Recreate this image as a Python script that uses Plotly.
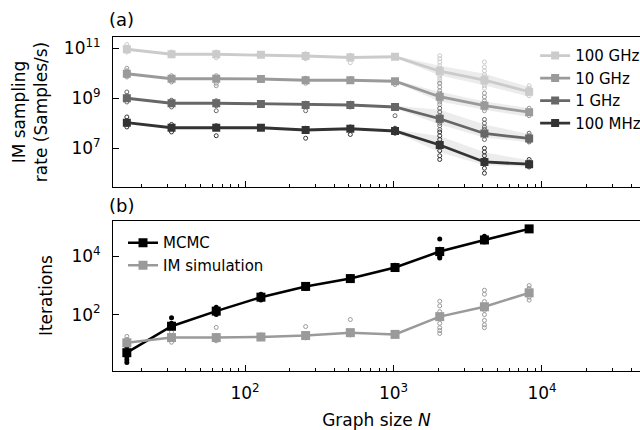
import numpy as np
import plotly.graph_objects as go

# ---------------- data ----------------
N = [16, 32, 64, 128, 256, 512, 1024, 2048, 4096, 8192]

# panel (a): log10 of IM sampling rate (Samples/s), mean per N
series_names = ["100 GHz", "10 GHz", "1 GHz", "100 MHz"]
series_colors = ["#cbcbcb", "#9a9a9a", "#676767", "#333333"]

log_rate_100GHz = [10.96, 10.76, 10.76, 10.74, 10.69, 10.63, 10.66, 10.08, 9.72, 9.26]
log_rate_10GHz = [9.98, 9.78, 9.78, 9.77, 9.72, 9.72, 9.68, 9.06, 8.70, 8.44]
log_rate_1GHz = [9.00, 8.80, 8.80, 8.77, 8.73, 8.73, 8.65, 8.18, 7.59, 7.39]
log_rate_100MHz = [8.02, 7.82, 7.82, 7.82, 7.73, 7.78, 7.69, 7.13, 6.45, 6.36]

# shaded band (lower / upper), log10
band_lo_100GHz = [10.94, 10.74, 10.74, 10.72, 10.67, 10.61, 10.62, 9.91, 9.52, 9.06]
band_hi_100GHz = [10.98, 10.78, 10.78, 10.76, 10.71, 10.65, 10.70, 10.30, 9.98, 9.45]
band_lo_10GHz = [9.96, 9.76, 9.76, 9.75, 9.70, 9.70, 9.64, 8.87, 8.54, 8.25]
band_hi_10GHz = [10.00, 9.80, 9.80, 9.79, 9.74, 9.74, 9.72, 9.26, 8.87, 8.61]
band_lo_1GHz = [8.98, 8.78, 8.78, 8.75, 8.71, 8.71, 8.60, 7.95, 7.43, 7.24]
band_hi_1GHz = [9.02, 8.82, 8.82, 8.79, 8.75, 8.75, 8.70, 8.54, 7.95, 7.56]
band_lo_100MHz = [8.00, 7.80, 7.80, 7.80, 7.71, 7.76, 7.64, 6.84, 6.32, 6.26]
band_hi_100MHz = [8.04, 7.84, 7.84, 7.84, 7.75, 7.80, 7.74, 7.49, 6.84, 6.51]

# individual runs (log10), one list per N
runs_100GHz = [[11.15, 11.05, 10.9, 10.85, 11.0], [10.85, 10.7], [10.85, 10.62, 10.7], [10.78],
               [10.78, 10.58, 10.62], [10.72, 10.42], [10.7],
               [10.70, 10.58, 10.45, 10.3, 10.2, 10.0, 9.9, 9.8, 9.7, 9.6],
               [10.45, 10.25, 10.1, 9.95, 9.85, 9.6, 9.5, 9.4], [9.5, 9.4, 9.3, 9.2, 9.1]]
runs_10GHz = [[10.2, 10.1, 9.9, 9.85, 10.05], [9.9, 9.65], [9.9, 9.6, 9.5], [9.8],
              [9.8, 9.6], [9.78, 9.7], [9.7, 9.55],
              [9.6, 9.45, 9.3, 9.2, 9.05, 8.95, 8.85, 8.75],
              [9.2, 9.05, 8.9, 8.8, 8.7, 8.6, 8.5], [8.6, 8.5, 8.4, 8.3]]
runs_1GHz = [[9.25, 9.1, 8.95, 8.85, 9.05], [8.92, 8.65], [8.9, 8.7, 8.5], [8.82],
             [8.8, 8.5], [8.8, 8.65], [8.7, 8.3],
             [8.6, 8.45, 8.3, 8.2, 8.1, 8.0, 7.9, 7.75],
             [8.15, 8.0, 7.85, 7.75, 7.6, 7.5, 7.35], [7.6, 7.5, 7.3, 7.25]]
runs_100MHz = [[8.25, 8.1, 7.95, 7.85, 8.05], [7.95, 7.65], [7.9, 7.5], [7.85],
               [7.8, 7.4], [7.85, 7.55], [7.8, 7.6],
               [7.65, 7.5, 7.35, 7.2, 7.05, 6.9, 6.7, 6.55],
               [7.0, 6.85, 6.7, 6.55, 6.4, 6.2, 6.0], [6.55, 6.45, 6.3, 6.25]]

# panel (b): log10 of iterations
log_iter_mcmc = [0.69, 1.60, 2.12, 2.60, 2.97, 3.24, 3.62, 4.17, 4.57, 4.95]
log_iter_im = [1.03, 1.21, 1.21, 1.23, 1.28, 1.38, 1.32, 1.93, 2.27, 2.75]
runs_mcmc = [[0.9, 0.55, 0.45, 0.35], [1.89, 1.7], [2.25, 2.0], [2.7, 2.5], [3.0, 2.9],
             [3.3, 3.2], [3.7, 3.55], [4.6, 4.25, 4.1, 4.0, 3.95], [4.7, 4.6, 4.5], [4.95]]
runs_im = [[1.25, 1.15, 0.95, 0.9], [1.4, 1.05], [1.56, 1.1], [1.3], [1.59, 1.2],
           [1.83, 1.3], [1.35], [2.46, 2.3, 2.1, 1.9, 1.7, 1.55, 1.45, 1.35],
           [2.84, 2.7, 2.45, 2.3, 2.15, 2.0, 1.8, 1.65, 1.55], [3.0, 2.9, 2.6, 2.5]]

x_major = [100, 1000, 10000]
x_major_text = ["10<sup>2</sup>", "10<sup>3</sup>", "10<sup>4</sup>"]
y_top_ticks = [1e7, 1e9, 1e11]
y_top_text = ["10<sup>7</sup>", "10<sup>9</sup>", "10<sup>11</sup>"]
y_bot_ticks = [1e2, 1e4]
y_bot_text = ["10<sup>2</sup>", "10<sup>4</sup>"]

# ---------------- figure ----------------
FONT = "DejaVu Sans"
TICK_FS = 17
TITLE_FS = 17
LEG_FS = 15
fig = go.Figure()


def flatten_runs(runs):
    xs, ys = [], []
    for n, vals in zip(N, runs):
        for v in vals:
            xs.append(n)
            ys.append(10 ** v)
    return xs, ys


top_means = [log_rate_100GHz, log_rate_10GHz, log_rate_1GHz, log_rate_100MHz]
top_lo = [band_lo_100GHz, band_lo_10GHz, band_lo_1GHz, band_lo_100MHz]
top_hi = [band_hi_100GHz, band_hi_10GHz, band_hi_1GHz, band_hi_100MHz]
top_runs = [runs_100GHz, runs_10GHz, runs_1GHz, runs_100MHz]

# bands
for lo, hi in zip(top_lo, top_hi):
    fig.add_trace(go.Scatter(x=N + N[::-1], y=[10 ** v for v in hi] + [10 ** v for v in lo[::-1]],
                             fill="toself", fillcolor="rgba(200,200,200,0.35)",
                             line=dict(width=0), mode="lines", showlegend=False,
                             hoverinfo="skip", xaxis="x", yaxis="y"))
# runs
for runs, col in zip(top_runs, series_colors):
    xs, ys = flatten_runs(runs)
    fig.add_trace(go.Scatter(x=xs, y=ys, mode="markers",
                             marker=dict(symbol="circle-open", size=4, color=col,
                                         line=dict(width=1, color=col)),
                             showlegend=False, xaxis="x", yaxis="y"))
# mean lines
for name, means, col in zip(series_names, top_means, series_colors):
    fig.add_trace(go.Scatter(x=N, y=[10 ** v for v in means], mode="lines+markers", name=name,
                             line=dict(color=col, width=2.8),
                             marker=dict(symbol="square", size=8, color=col),
                             legend="legend", xaxis="x", yaxis="y"))

# bottom panel runs
xs, ys = flatten_runs(runs_im)
fig.add_trace(go.Scatter(x=xs, y=ys, mode="markers",
                         marker=dict(symbol="circle-open", size=4, color="#9a9a9a",
                                     line=dict(width=1, color="#9a9a9a")),
                         showlegend=False, xaxis="x2", yaxis="y2"))
xs, ys = flatten_runs(runs_mcmc)
fig.add_trace(go.Scatter(x=xs, y=ys, mode="markers",
                         marker=dict(symbol="circle", size=5, color="black"),
                         showlegend=False, xaxis="x2", yaxis="y2"))
fig.add_trace(go.Scatter(x=N, y=[10 ** v for v in log_iter_mcmc], mode="lines+markers", name="MCMC",
                         line=dict(color="black", width=2.5),
                         marker=dict(symbol="square", size=9, color="black"),
                         legend="legend2", xaxis="x2", yaxis="y2"))
fig.add_trace(go.Scatter(x=N, y=[10 ** v for v in log_iter_im], mode="lines+markers", name="IM simulation",
                         line=dict(color="#9a9a9a", width=2.5),
                         marker=dict(symbol="square", size=9, color="#9a9a9a"),
                         legend="legend2", xaxis="x2", yaxis="y2"))

minor_vals = [m * 10 ** e for e in range(1, 5) for m in range(2, 10)]

xcommon = dict(type="log", range=[1.111, 4.66], showline=True, linecolor="black", linewidth=1,
               mirror=True, ticks="inside", ticklen=6, tickwidth=1, tickcolor="black",
               tickvals=x_major, ticktext=x_major_text, showgrid=False, zeroline=False,
               automargin=False,
               minor=dict(ticks="inside", ticklen=3, tickwidth=1, tickcolor="black",
                          tickvals=minor_vals, showgrid=False),
               tickfont=dict(family=FONT, size=TICK_FS, color="black"))
ycommon = dict(type="log", showline=True, linecolor="black", linewidth=1, mirror=False,
               ticks="inside", ticklen=6, tickwidth=1, tickcolor="black", showgrid=False,
               zeroline=False, ticklabelstandoff=8, automargin=False,
               tickfont=dict(family=FONT, size=TICK_FS, color="black"))

fig.update_layout(
    width=640, height=430,
    margin=dict(l=113, r=0, t=37, b=59, autoexpand=False),
    paper_bgcolor="white", plot_bgcolor="white",
    font=dict(family=FONT, size=TICK_FS, color="black"),
    xaxis=dict(**xcommon, anchor="y", showticklabels=False),
    yaxis=dict(**ycommon, domain=[0.551, 1], anchor="x", range=[5.45, 11.45],
               tickvals=y_top_ticks, ticktext=y_top_text),
    xaxis2=dict(**xcommon, anchor="y2", ticklabelstandoff=7,
                title=dict(text="Graph size <i>N</i>", standoff=14,
                           font=dict(family=FONT, size=TITLE_FS, color="black"))),
    yaxis2=dict(**ycommon, domain=[0, 0.449], anchor="x2", range=[0.06, 5.22],
                tickvals=y_bot_ticks, ticktext=y_bot_text),
    legend=dict(x=0.801, y=0.993, xanchor="left", yanchor="top", bgcolor="rgba(0,0,0,0)",
                font=dict(family=FONT, size=LEG_FS, color="black"), tracegroupgap=0,
                itemwidth=30),
    legend2=dict(x=0.019, y=0.433, xanchor="left", yanchor="top", bgcolor="rgba(0,0,0,0)",
                 font=dict(family=FONT, size=LEG_FS, color="black"), itemwidth=30),
)

fig.add_annotation(text="(a)", xref="paper", yref="paper", x=-0.012, y=1.051,
                   xanchor="left", yanchor="middle", showarrow=False,
                   font=dict(family=FONT, size=18, color="black"))
fig.add_annotation(text="(b)", xref="paper", yref="paper", x=-0.012, y=0.497,
                   xanchor="left", yanchor="middle", showarrow=False,
                   font=dict(family=FONT, size=18, color="black"))
fig.add_annotation(text="IM sampling<br>rate (Samples/s)", xref="paper", yref="paper",
                   x=-0.1575, y=0.775, xanchor="center", yanchor="middle", textangle=-90,
                   showarrow=False, font=dict(family=FONT, size=TITLE_FS, color="black"))
fig.add_annotation(text="Iterations", xref="paper", yref="paper",
                   x=-0.127, y=0.2246, xanchor="center", yanchor="middle", textangle=-90,
                   showarrow=False, font=dict(family=FONT, size=TITLE_FS, color="black"))

fig.write_html("out.html")
